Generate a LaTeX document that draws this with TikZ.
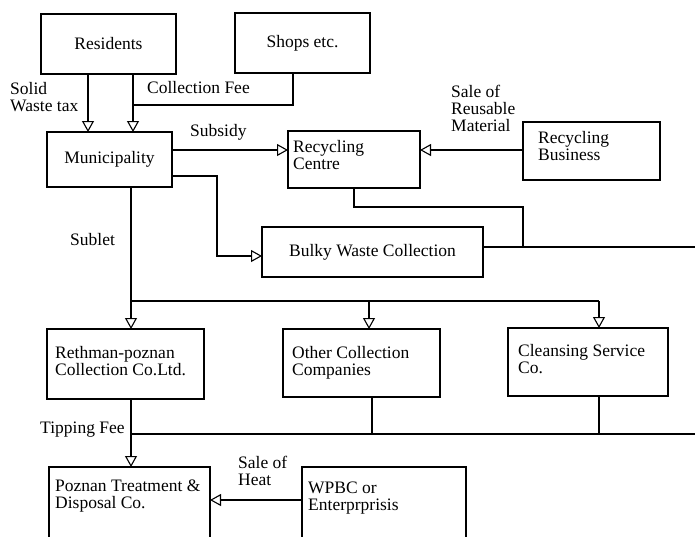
\documentclass[tikz,border=0pt]{standalone}
\usepackage{fontspec}
\setmainfont{Liberation Serif}
\usetikzlibrary{arrows.meta}
\begin{document}
\begin{tikzpicture}[x=1pt,y=-1pt,
  font=\fontsize{17.5}{17}\selectfont,
  box/.style={draw,line width=1.1pt,inner sep=0pt,outer sep=0pt},
  wire/.style={line width=1.1pt},
  flow/.style={wire,-{Triangle[open,length=11pt,width=12pt]}},
  txt/.style={inner sep=0pt,anchor=north west,align=left},
]
\useasboundingbox (0,0) rectangle (695,536);
\clip (0,0) rectangle (695,536);
\fill[white] (0,0) rectangle (695,536);

% boxes
\node[box,minimum width=135pt,minimum height=60pt] (res) at (108.5,44) {Residents};
\node[box,minimum width=135pt,minimum height=60pt] (shops) at (302.5,43) {Shops etc.};
\node[box,minimum width=125pt,minimum height=55pt] (mun) at (109.5,159.5) {Municipality};
\node[box,minimum width=132pt,minimum height=57pt] (rc) at (354,159.5) {};
\node[txt] (rctext) at (293,140) {Recycling\\Centre};
\node[box,minimum width=137pt,minimum height=58pt] (rb) at (591.5,151) {};
\node[txt] (rbtext) at (538,131) {Recycling\\Business};
\node[box,minimum width=221pt,minimum height=50pt] (bulky) at (372.5,252) {Bulky Waste Collection};
\node[box,minimum width=157pt,minimum height=70pt] (reth) at (125.5,364) {};
\node[txt] (rethtext) at (55,346) {Rethman-poznan\\Collection Co.Ltd.};
\node[box,minimum width=157pt,minimum height=68pt] (other) at (361.5,363) {};
\node[txt] (othertext) at (292,346) {Other Collection\\Companies};
\node[box,minimum width=160pt,minimum height=68pt] (clean) at (588,362) {};
\node[txt] (cleantext) at (518,344) {Cleansing Service\\Co.};
\node[box,minimum width=161pt,minimum height=93pt] (poz) at (129.5,513.5) {};
\node[txt] (poztext) at (55,480) {Poznan Treatment \&\\Disposal Co.};
\node[box,minimum width=164pt,minimum height=93pt] (wpbc) at (384,513.5) {};
\node[txt] (wpbctext) at (308,482) {WPBC or\\Enterprprisis};

% connector labels
\node[txt] (lswt) at (10,82) {Solid\\Waste tax};
\node[txt] (lcf) at (147,81) {Collection Fee};
\node[txt] (lsub) at (190,124) {Subsidy};
\node[txt] (lsrm) at (451,85) {Sale of\\Reusable\\Material};
\node[txt] (lsublet) at (70,233) {Sublet};
\node[txt] (ltip) at (40,422) {Tipping Fee};
\node[txt] (lheat) at (238,456) {Sale of\\Heat};

% bends and junctions
\coordinate (c1) at (88,0);
\coordinate (c2) at (133,0);
\coordinate (c3) at (293,0);
\coordinate (j1) at (133,105);
\coordinate (ysub) at (0,150);
\coordinate (k1) at (217,176);
\coordinate (k2) at (217,256);
\coordinate (k3) at (354,207);
\coordinate (k4) at (523,207);
\coordinate (k5) at (523,247);
\coordinate (edge1) at (695,247);
\coordinate (k6) at (131,301);
\coordinate (k7) at (369,301);
\coordinate (k8) at (599,301);
\coordinate (k9) at (131,434);
\coordinate (k10) at (372,434);
\coordinate (k11) at (599,434);
\coordinate (edge2) at (695,434);
\coordinate (yheat) at (0,500);

% payments into the municipality
\draw[flow] (res.south -| c1) -- (mun.north -| c1);
\draw[flow] (res.south -| c2) -- (mun.north -| c2);
\draw[wire] (shops.south -| c3) |- (j1);

% recycling
\draw[flow] (mun.east |- ysub) -- (rc.west |- ysub);
\draw[flow] (rb.west |- ysub) -- (rc.east |- ysub);

% bulky waste
\draw[flow] (mun.east |- k1) -- (k1) -- (k2) -- (bulky.west |- k2);
\draw[wire] (rc.south -| k3) -- (k3) -- (k4) -- (k5);
\draw[wire] (bulky.east |- k5) -- (edge1);

% sublet to collectors
\draw[flow] (mun.south -| k6) -- (reth.north -| k6);
\draw[wire] (k6) -- (k8);
\draw[flow] (k7) -- (other.north -| k7);
\draw[flow] (k8) -- (clean.north -| k8);

% tipping fees
\draw[flow] (reth.south -| k9) -- (poz.north -| k9);
\draw[wire] (k9) -- (edge2);
\draw[wire] (other.south -| k10) -- (k10);
\draw[wire] (clean.south -| k11) -- (k11);

% heat
\draw[flow] (wpbc.west |- yheat) -- (poz.east |- yheat);
\end{tikzpicture}
\end{document}
